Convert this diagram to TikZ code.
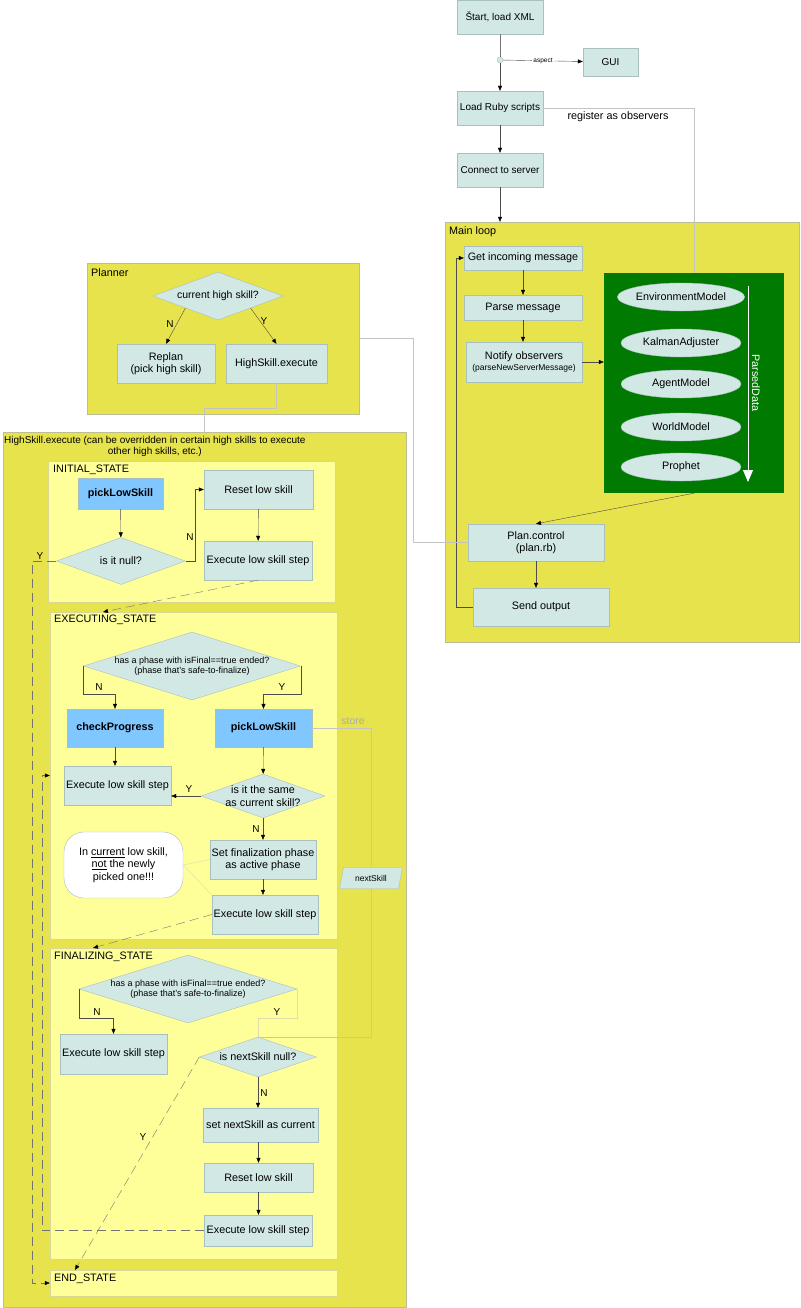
\documentclass[tikz,border=0pt]{standalone}
\usepackage{fontspec}
\setmainfont{Liberation Sans}
\usetikzlibrary{shapes.geometric,arrows.meta}

\definecolor{boxfill}{RGB}{210,232,229}
\definecolor{boxline}{RGB}{168,192,190}
\definecolor{zonefill}{RGB}{230,227,76}
\definecolor{zoneline}{RGB}{190,190,150}
\definecolor{statefill}{RGB}{255,255,153}
\definecolor{stateline}{RGB}{215,215,150}
\definecolor{skillblue}{RGB}{128,198,255}
\definecolor{parsegreen}{RGB}{0,122,0}
\definecolor{faintline}{RGB}{196,196,196}
\definecolor{paleline}{RGB}{222,222,170}

\begin{document}
\begin{tikzpicture}[x=1pt,y=-1pt,
  box/.style={draw=boxline,fill=boxfill,inner sep=1pt,align=center,font=\fontsize{10.8}{12.5}\selectfont},
  topbox/.style={box,font=\fontsize{10}{12}\selectfont},
  skill/.style={box,fill=skillblue,font=\bfseries\fontsize{10.8}{12.5}\selectfont},
  dia/.style={diamond,draw=boxline,fill=boxfill,inner sep=0pt},
  diatext/.style={align=center,inner sep=0pt,font=\fontsize{10.8}{12.5}\selectfont},
  obs/.style={ellipse,draw=boxline,fill=boxfill,minimum width=120pt,minimum height=28pt,inner sep=0pt,font=\fontsize{10.8}{12.5}\selectfont},
  wh/.style 2 args={minimum width=#1pt,minimum height=#2pt},
  zone/.style={draw=zoneline,fill=zonefill},
  statebox/.style={draw=stateline,fill=statefill},
  areatitle/.style={anchor=north west,inner sep=0pt,font=\fontsize{10.8}{12.5}\selectfont},
  lbl/.style={inner sep=0pt,font=\fontsize{10}{12}\selectfont},
  arr/.style={draw=black!70,-{Triangle[length=5pt,width=4pt,color=black]}},
  dsh/.style={draw=black!55,dash pattern=on 9pt off 5pt},
  faint/.style={draw=faintline},
  pale/.style={draw=paleline}
]
\useasboundingbox (0,0) rectangle (800,1308);

% Startup chain
\node[topbox,wh={86}{34}] (start) at (500,17) {Štart, load XML};
\node[circle,draw=boxline,fill=boxfill,minimum size=6pt,inner sep=0pt] (jn) at (500,60) {};
\node[topbox,wh={55}{28}] (gui) at (610.5,62) {GUI};
\node[topbox,wh={86}{34}] (ruby) at (500,108) {Load Ruby scripts};
\node[topbox,wh={86}{34}] (connect) at (500,170) {Connect to server};

\draw[draw=black!55] (start) -- (jn);
\draw[arr] (jn) -- (ruby);
\draw[arr] (jn) -- node[fill=white,inner sep=1pt,font=\fontsize{6.5}{7}\selectfont] (asp) {aspect} (gui);
\draw[arr] (ruby) -- (connect);

% Main loop
\node[zone,wh={354}{420}] (mainloop) at (622,432) {};
\node[areatitle] (mainlt) at (449,226) {Main loop};
\draw[arr] (connect) -- (connect.south |- mainloop.north);

\node[box,wh={118}{24}] (getmsg) at (523,258) {Get incoming message};
\node[box,wh={118}{25}] (parse) at (523,307.5) {Parse message};
\node[box,wh={116}{40}] (notify) at (524,362) {Notify observers\\[-2pt]{\fontsize{8.5}{9}\selectfont(parseNewServerMessage)}};

% Observers
\node[fill=parsegreen,wh={180}{220}] (green) at (694,383) {};
\foreach \nm/\txt/\yy in {envm/EnvironmentModel/297,kalman/KalmanAdjuster/343,
    agent/AgentModel/384,world/WorldModel/427,prophet/Prophet/467}
  \node[obs] (\nm) at (681,\yy) {\txt};
\coordinate (pdtop) at (748,286);
\coordinate (pdbot) at (748,482);
\draw[white,line width=0.8pt,-{Triangle[length=12pt,width=10pt]}] (pdtop) -- (pdbot);
\node[white,rotate=-90,font=\fontsize{10.8}{12.5}\selectfont] (pdlab) at (756,383) {ParsedData};

\draw[faint] (ruby.east) -| (green.north);
\node[font=\fontsize{10.8}{12.5}\selectfont] (regl) at (618,117) {register as observers};

\node[box,wh={136}{37}] (plan) at (536,542.5) {Plan.control\\(plan.rb)};
\node[box,wh={136}{38}] (send) at (541,607) {Send output};

\draw[arr] (getmsg) -- (parse);
\draw[arr] (parse.south) -- (parse.south |- notify.north);
\draw[arr] (notify.east) -- (notify.east -| green.west);
\draw[arr] (green.south) -- (plan.north);
\draw[arr] (plan.south) -- (plan.south |- send.north);
\draw[arr] (send.west) -- ++(-17,0) |- (getmsg.west);

% Planner
\node[zone,wh={272}{151}] (planner) at (223,338.5) {};
\node[areatitle] (plannert) at (91,268) {Planner};
\node[dia,wh={130}{48}] (plq) at (218,296) {};
\node[diatext,font=\fontsize{10.5}{12}\selectfont] (plqt) at (plq) {current high skill?};
\node[box,wh={98}{39}] (replan) at (166,363.5) {Replan\\(pick high skill)};
\node[box,wh={101}{39}] (hse) at (276.5,363.5) {HighSkill.execute};
\draw[arr] (plq.south west) -- (replan.north);
\draw[arr] (plq.south east) -- (hse.north);
\node[lbl] (plqn) at (170,324) {N};
\node[lbl] (plqy) at (264,321) {Y};
\draw[faint] (planner.east) -- ++(54,0) |- (plan.west);

% HighSkill.execute
\node[zone,wh={403}{875}] (hsbox) at (204.5,869.5) {};
\node[areatitle,align=center,font=\fontsize{10}{11.5}\selectfont] (hsboxt) at (4,436) {HighSkill.execute (can be overridden in certain high skills to execute\\other high skills, etc.)};
\draw[faint] (hse.south) -- ++(0,25) -| (hsbox.north);

% INITIAL_STATE
\node[statebox,wh={287}{141}] (initst) at (191.5,531.5) {};
\node[areatitle] (initt) at (53,465) {INITIAL\_STATE};
\node[skill,wh={85}{31}] (pick1) at (120.5,493.5) {pickLowSkill};
\node[box,wh={109}{39}] (reset1) at (258.5,489.5) {Reset low skill};
\node[dia,wh={129}{47}] (null) at (121,561) {};
\node[diatext] (nullt) at (null) {is it null?};
\node[box,wh={108}{39}] (exec1) at (258,560.5) {Execute low skill step};
\draw[arr] (pick1) -- (null);
\draw[arr] (null.east) -- ++(9,0) |- (reset1.west);
\node[lbl] (nulln) at (190,537.5) {N};
\draw[arr] (reset1) -- (exec1);

% EXECUTING_STATE
\node[statebox,wh={287}{327}] (execst) at (193.5,775.5) {};
\node[areatitle] (exect) at (54,615) {EXECUTING\_STATE};
\node[dia,wh={217}{68}] (q2) at (192,666) {};
\node[diatext,font=\fontsize{9}{10.5}\selectfont] (q2t) at (q2) {has a phase with isFinal==true ended?\\(phase that's safe-to-finalize)};
\node[skill,wh={96}{38}] (check) at (115,728) {checkProgress};
\node[skill,wh={97}{38}] (pick2) at (263.5,728) {pickLowSkill};
\node[box,wh={107}{39}] (exec2a) at (117.5,785.5) {Execute low skill step};
\node[dia,wh={124}{44}] (same) at (263,796) {};
\node[diatext] (samet) at (same) {is it the same\\as current skill?};
\node[box,wh={106}{39}] (setfin) at (263,859.5) {Set finalization phase\\as active phase};
\node[box,wh={106}{39}] (exec2b) at (265,914.5) {Execute low skill step};
\node[draw=boxline,fill=white,rounded corners=20pt,wh={119}{66},align=center,
  font=\fontsize{10.8}{12.5}\selectfont] (note) at (123.5,865)
  {In \underline{current} low skill,\\\underline{not} the newly\\picked one!!!};

\draw[arr] (q2.west) -- ++(0,28) -| (check.north);
\draw[arr] (q2.east) -- ++(0,28) -| (pick2.north);
\node[lbl] (q2n) at (99,687) {N};
\node[lbl] (q2y) at (282,687) {Y};
\draw[arr] (check.south) -- (check.south |- exec2a.north);
\draw[arr] (pick2) -- (same);
\draw[arr] (same.west) -- (same.west -| exec2a.east);
\node[lbl] (samey) at (189,789) {Y};
\draw[arr] (same) -- (setfin);
\node[lbl] (samen) at (256,829) {N};
\draw[arr] (setfin.south) -- (setfin.south |- exec2b.north);
\draw[pale] (note.east) -- (setfin.west);
\draw[pale] (note.east) -- (exec2b.north west);

% stored skill
\node[trapezium,trapezium left angle=70,trapezium right angle=110,trapezium stretches=true,
  draw=boxline,fill=boxfill,wh={63}{21},inner sep=0pt,font=\fontsize{8.5}{10}\selectfont] (nextsk) at (371,878) {nextSkill};
\draw[faint] (pick2.east) -| (nextsk.north);
\node[text=black!32,font=\fontsize{10.5}{12}\selectfont] (storel) at (353,721) {store};

% FINALIZING_STATE
\node[statebox,wh={287}{311}] (finst) at (193.5,1103.5) {};
\node[areatitle] (fint) at (54,952) {FINALIZING\_STATE};
\node[dia,wh={218}{68}] (q3) at (188,989) {};
\node[diatext,font=\fontsize{9}{10.5}\selectfont] (q3t) at (q3) {has a phase with isFinal==true ended?\\(phase that's safe-to-finalize)};
\node[box,wh={107}{40}] (exec3a) at (113.5,1054) {Execute low skill step};
\node[dia,wh={117}{40}] (nsnull) at (258,1057) {};
\node[diatext] (nsnullt) at (nsnull) {is nextSkill null?};
\node[box,wh={115}{34}] (setnext) at (260.5,1125) {set nextSkill as current};
\node[box,wh={109}{29}] (reset3) at (258.5,1177.5) {Reset low skill};
\node[box,wh={108}{31}] (exec3b) at (258,1230.5) {Execute low skill step};

\draw[faint] (nextsk.south) |- (nsnull.north);
\draw[arr] (q3.west) -- ++(0,29) -| (exec3a.north);
\draw[pale] (q3.east) -- ++(0,29) -| (nsnull.north);
\node[lbl] (q3n) at (97,1012) {N};
\node[lbl] (q3y) at (277,1012) {Y};
\draw[arr] (nsnull.south) -- (nsnull.south |- setnext.north);
\node[lbl] (nsn) at (264,1093) {N};
\draw[arr] (reset3.north |- setnext.south) -- (reset3.north);
\draw[arr] (reset3.south) -- (reset3.south |- exec3b.north);

% END_STATE
\node[statebox,wh={287}{26}] (endst) at (193.5,1283) {};
\node[areatitle] (endt) at (54,1274) {END\_STATE};

% transitions between states
\coordinate (execin) at (103,612);
\coordinate (finin) at (93,948);
\coordinate (endin) at (75,1270);
\draw[arr,dsh] (exec1.south) -- (execin);
\draw[arr,dsh] (exec2b.west) -- (finin);
\draw[arr,dsh] (nsnull.west) -- (endin);
\node[lbl] (nsy) at (143,1137) {Y};
\draw[arr,dsh] (exec3b.west) -- ++(-162,0) |- (execst.west);
\draw[arr,dsh] (null.west) -- ++(-24.5,0) |- (endst.west);
\node[lbl] (nully) at (40,556) {Y};

\end{tikzpicture}
\end{document}
